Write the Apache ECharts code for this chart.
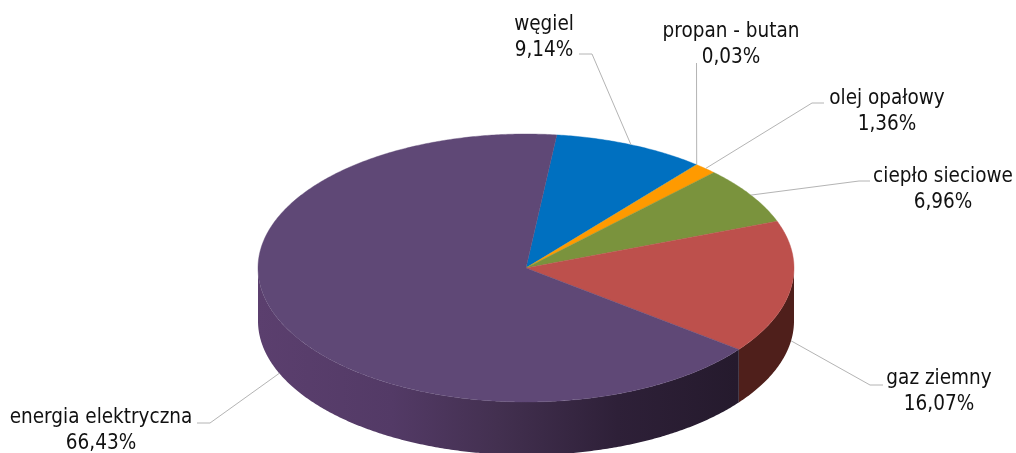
<!DOCTYPE html>
<html><head><meta charset="utf-8">
<style>html,body{margin:0;padding:0;background:#fff}#c{width:1016px;height:453px}</style>
<script src="https://cdn.jsdelivr.net/npm/echarts@6/dist/echarts.min.js"></script>
</head><body><div id="c"></div>
<script>
var categories = ['węgiel','propan - butan','olej opałowy','ciepło sieciowe','gaz ziemny','energia elektryczna'];
var values = [9.14,0.03,1.36,6.96,16.07,66.43];
var topColors = ['#0070c0','#4198af','#ff9a00','#7a933d','#bd504c','#5f4876'];

// text centre + leader elbow path (label end -> elbow), the slice end of the leader is derived from the data
var labelCentres = [[544,38],[731,45],[887,112],[943,190],[939,392],[101,431]];
var leaderElbows = [[[579,54],[592,54]],[[696.5,63]],[[824,103],[812,103]],[[870,181],[859,181]],[[883,385],[870,385]],[[197,423],[210,423]]];

var CX=526, CY=268, RX=268, RY=134, DEPTH=53, START=6.6;
var total = values.reduce(function(a,b){return a+b;},0);
var pt = function(deg,dy){var r=deg*Math.PI/180;return [CX+RX*Math.sin(r), CY-RY*Math.cos(r)+(dy||0)];};
var arc = function(a,b,dy){var n=Math.max(2,Math.ceil(Math.abs(b-a))*2),o=[];for(var i=0;i<=n;i++)o.push(pt(a+(b-a)*i/n,dy));return o;};
var fmt = function(v){return v.toFixed(2).replace('.',',')+'%';};
var startOf = function(i){var s=0;for(var k=0;k<i;k++)s+=values[k];return START+s/total*360;};

var wallFill = function(i){
  if(i===4) return '#4f1f1b';
  return new echarts.graphic.LinearGradient(258,0,737,0,[
    {offset:0,color:'#5b3f6e'},{offset:.28,color:'#533a66'},{offset:.5,color:'#433050'},{offset:.75,color:'#2e2038'},{offset:1,color:'#251a2d'}],true);
};

var chart = echarts.init(document.getElementById('c'),null,{renderer:'canvas'});
chart.setOption({
  animation:false,
  backgroundColor:'#fff',
  series:[
    { // side walls
      type:'custom',coordinateSystem:'none',silent:true,z:1,
      data:values.map(function(v,i){return [i,v];}),
      renderItem:function(p,api){
        var i=api.value(0),a=startOf(i),b=a+api.value(1)/total*360;
        var s=Math.max(a,90),e=Math.min(b,270);
        if(e<=s) return {type:'group',children:[]};
        var pts=arc(s,e,0).concat(arc(e,s,DEPTH));
        return {type:'polygon',shape:{points:pts},style:{fill:wallFill(i),stroke:null}};
      }
    },
    { // top face
      type:'custom',coordinateSystem:'none',silent:true,z:2,
      data:values.map(function(v,i){return [i,v];}),
      renderItem:function(p,api){
        var i=api.value(0),a=startOf(i),b=a+api.value(1)/total*360;
        var pts=[[CX,CY]].concat(arc(a,b,0));
        return {type:'polygon',shape:{points:pts},style:{fill:topColors[i],stroke:topColors[i],lineWidth:.4}};
      }
    },
    { // leaders + labels
      type:'custom',coordinateSystem:'none',silent:true,z:3,
      data:values.map(function(v,i){return [i,v];}),
      renderItem:function(p,api){
        var i=api.value(0),a=startOf(i),b=a+api.value(1)/total*360,m=(a+b)/2;
        var onFront=m>90&&m<270;
        var end=pt(m,onFront?DEPTH:0);
        return {type:'group',children:[
          {type:'polyline',shape:{points:leaderElbows[i].concat([end])},style:{stroke:'#b4b4b4',lineWidth:1,fill:null}},
          {type:'text',x:labelCentres[i][0],y:labelCentres[i][1],style:{
            text:categories[i]+'\n'+fmt(api.value(1)),
            font:'20.5px "DejaVu Sans Condensed","DejaVu Sans",sans-serif',
            lineHeight:26,fill:'#111',align:'center',verticalAlign:'middle'}}
        ]};
      }
    }
  ]
});
</script></body></html>
